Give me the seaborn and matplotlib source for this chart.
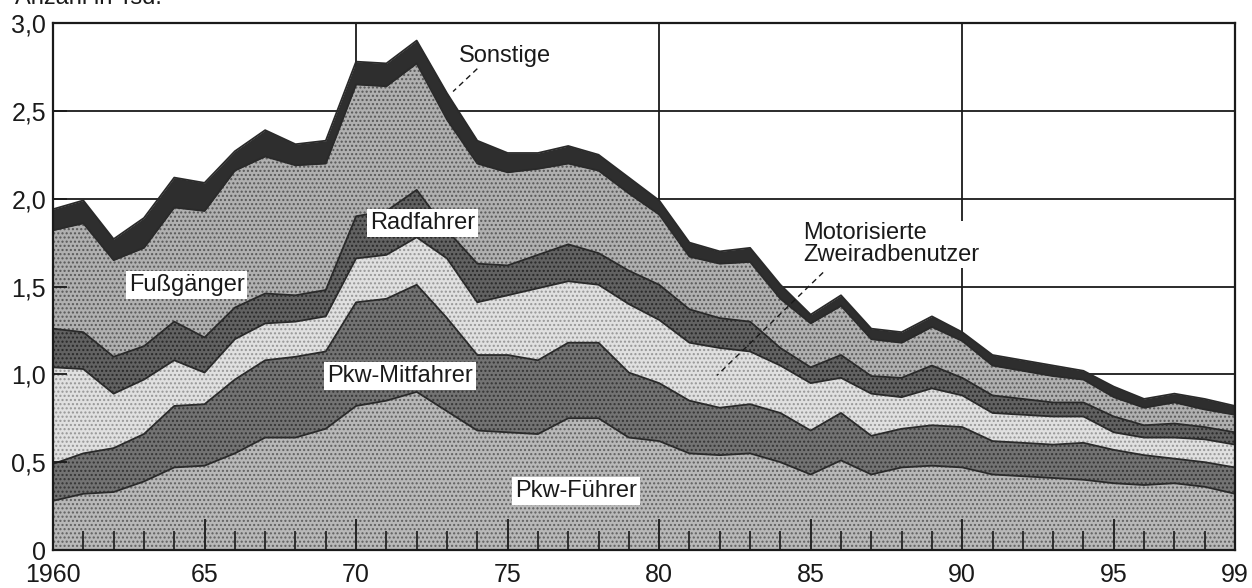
import numpy as np
import matplotlib
matplotlib.use("Agg")
import matplotlib.pyplot as plt
import seaborn as sns

# ---------------- data (Anzahl in Tsd.) ----------------
years = list(range(1960, 2000))

pkw_fuehrer = [0.28, 0.32, 0.33, 0.39, 0.47, 0.48, 0.55, 0.64, 0.64, 0.69,
               0.82, 0.85, 0.90, 0.79, 0.68, 0.67, 0.66, 0.75, 0.75, 0.64,
               0.62, 0.55, 0.54, 0.55, 0.50, 0.43, 0.51, 0.43, 0.47, 0.48,
               0.47, 0.43, 0.42, 0.41, 0.40, 0.38, 0.37, 0.38, 0.36, 0.32]
pkw_mitfahrer = [0.21, 0.23, 0.25, 0.27, 0.35, 0.35, 0.42, 0.44, 0.46, 0.44,
                 0.59, 0.58, 0.61, 0.53, 0.43, 0.44, 0.42, 0.43, 0.43, 0.37,
                 0.33, 0.30, 0.27, 0.28, 0.28, 0.25, 0.27, 0.22, 0.22, 0.23,
                 0.23, 0.19, 0.19, 0.19, 0.21, 0.19, 0.17, 0.14, 0.14, 0.15]
motor_zweirad = [0.55, 0.48, 0.31, 0.31, 0.26, 0.18, 0.23, 0.21, 0.20, 0.20,
                 0.25, 0.25, 0.27, 0.34, 0.30, 0.34, 0.41, 0.35, 0.33, 0.39,
                 0.36, 0.33, 0.34, 0.30, 0.27, 0.27, 0.20, 0.24, 0.18, 0.21,
                 0.18, 0.16, 0.16, 0.16, 0.15, 0.10, 0.10, 0.12, 0.13, 0.13]
radfahrer = [0.22, 0.21, 0.21, 0.19, 0.22, 0.20, 0.18, 0.17, 0.15, 0.15,
             0.24, 0.25, 0.27, 0.16, 0.22, 0.17, 0.19, 0.21, 0.18, 0.19,
             0.20, 0.19, 0.17, 0.17, 0.10, 0.09, 0.13, 0.10, 0.11, 0.13,
             0.10, 0.10, 0.09, 0.08, 0.08, 0.09, 0.07, 0.08, 0.07, 0.07]
fussgaenger = [0.56, 0.62, 0.55, 0.56, 0.65, 0.72, 0.78, 0.78, 0.74, 0.72,
               0.75, 0.71, 0.72, 0.63, 0.57, 0.53, 0.49, 0.46, 0.47, 0.44,
               0.40, 0.30, 0.31, 0.34, 0.28, 0.25, 0.28, 0.21, 0.20, 0.22,
               0.21, 0.17, 0.16, 0.15, 0.13, 0.11, 0.10, 0.12, 0.10, 0.10]
sonstige = [0.12, 0.13, 0.12, 0.17, 0.17, 0.16, 0.11, 0.15, 0.12, 0.13,
            0.13, 0.13, 0.13, 0.15, 0.13, 0.11, 0.09, 0.10, 0.09, 0.09,
            0.08, 0.08, 0.07, 0.08, 0.08, 0.05, 0.06, 0.06, 0.06, 0.06,
            0.05, 0.06, 0.06, 0.06, 0.05, 0.06, 0.05, 0.05, 0.06, 0.05]

layer_names = ["Pkw-Führer", "Pkw-Mitfahrer", "Motorisierte Zweiradbenutzer",
               "Radfahrer", "Fußgänger", "Sonstige"]
x_tick_pos = [1960, 1965, 1970, 1975, 1980, 1985, 1990, 1995, 1999]
x_tick_labels = ["1960", "65", "70", "75", "80", "85", "90", "95", "99"]
y_tick_pos = [0, 0.5, 1.0, 1.5, 2.0, 2.5, 3.0]
y_tick_labels = ["0", "0,5", "1,0", "1,5", "2,0", "2,5", "3,0"]

# ---------------- style ----------------
sns.set_theme(style="white")
plt.rcParams['font.family'] = ['Liberation Sans', 'DejaVu Sans']
plt.rcParams['hatch.linewidth'] = 1.0

fig = plt.figure(figsize=(12.52, 5.88), dpi=100)
ax = fig.add_axes([53 / 1252, 38 / 588, 1182 / 1252, 527 / 588])
ax.set_axisbelow(False)

layers = [pkw_fuehrer, pkw_mitfahrer, motor_zweirad, radfahrer, fussgaenger, sonstige]
face_colors = ["#b8b8b8", "#737373", "#e0e0e0", "#626262", "#b0b0b0", "#2e2e2e"]
hatch_colors = ["#606060", "#353535", "#969696", "#282828", "#585858", "#2e2e2e"]
hatches = ["....", "....", "....", "....", "....", None]

# manual grid (behind the areas)
for yv in [0.5, 1.0, 1.5, 2.0, 2.5]:
    ax.axhline(yv, color="#1a1a1a", lw=1.3, zorder=0.5)
for xv in [1970, 1980, 1990]:
    ax.axvline(xv, color="#1a1a1a", lw=1.3, zorder=0.5)

polys = ax.stackplot(years, layers, colors=face_colors, zorder=1, linewidth=0)
for p, hc, h in zip(polys, hatch_colors, hatches):
    if h:
        p.set_hatch(h)
        p.set_edgecolor(hc)
        p.set_linewidth(0)

# outlines of the layer boundaries
cum = np.cumsum(np.array(layers), axis=0)
for i in range(cum.shape[0]):
    sns.lineplot(x=years, y=cum[i], ax=ax, color="#2a2a2a", lw=1.3,
                 legend=False, zorder=1.6)

ax.set_xlim(1960, 1999)
ax.set_ylim(0, 3.0)
ax.set_xticks(x_tick_pos)
ax.set_xticklabels(x_tick_labels)
ax.set_xticks(years, minor=True)
ax.set_yticks(y_tick_pos)
ax.set_yticklabels(y_tick_labels)
ax.tick_params(axis="x", which="major", direction="in", length=22, width=1.3,
               color="#1a1a1a", labelsize=18, pad=9, bottom=True)
ax.tick_params(axis="x", which="minor", direction="in", length=14, width=1.2,
               color="#1a1a1a", bottom=True)
ax.tick_params(axis="y", which="major", direction="in", length=10, width=1.3,
               color="#1a1a1a", labelsize=18, pad=5, left=True)
for lab in ax.get_xticklabels() + ax.get_yticklabels():
    lab.set_color("#1a1a1a")
for s in ax.spines.values():
    s.set_color("#1a1a1a")
    s.set_linewidth(1.6)
    s.set_visible(True)
    s.set_zorder(4)
ax.set_xlabel("")
ax.set_ylabel("")

# ---------------- labels ----------------
box = dict(facecolor="white", edgecolor="none", pad=2.0)
lab_kw = dict(fontsize=17, color="#1a1a1a", zorder=5)
ax.text(1962.5, 1.51, "Fußgänger", ha="left", va="center", bbox=box, **lab_kw)
ax.text(1972.2, 1.86, "Radfahrer", ha="center", va="center", bbox=box, **lab_kw)
ax.text(1971.45, 0.99, "Pkw-Mitfahrer", ha="center", va="center", bbox=box, **lab_kw)
ax.text(1977.26, 0.335, "Pkw-Führer", ha="center", va="center", bbox=box, **lab_kw)
ax.text(1974.9, 2.81, "Sonstige", ha="center", va="center", **lab_kw)
ax.plot([1974.0, 1973.2], [2.74, 2.61], ls=(0, (4, 3)), color="#1a1a1a", lw=1.0, zorder=5)
ax.text(1984.75, 1.74, "Motorisierte\nZweiradbenutzer", ha="left", va="center",
        linespacing=1.0, bbox=dict(facecolor="white", edgecolor="none", pad=1.0), **lab_kw)
ax.plot([1985.41, 1981.91], [1.58, 0.994], ls=(0, (4, 3)), color="#1a1a1a", lw=1.0, zorder=5)

fig.text(15 / 1252, 1 - 4 / 588, "Anzahl in Tsd.", ha="left", va="baseline",
         fontsize=17, color="#1a1a1a")

fig.savefig("out.png", dpi=100, facecolor="white")
